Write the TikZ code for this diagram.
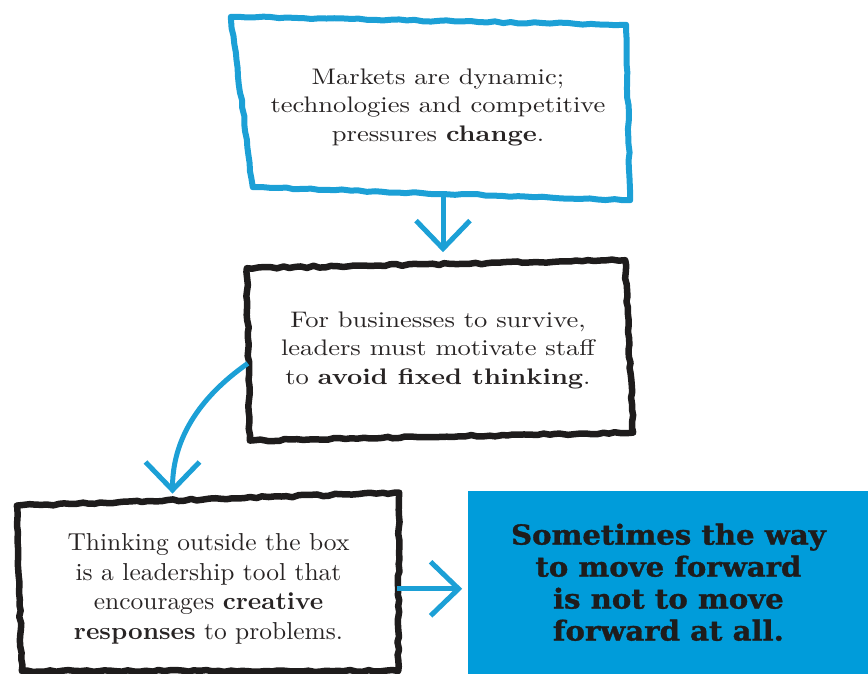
\documentclass[tikz,border=0pt]{standalone}
\usepackage{fontspec}
\newfontfamily\wideFont{lmroman10-regular}[Extension=.otf, BoldFont=lmroman10-bold, FakeStretch=1.18]
\newfontfamily\narrowfont{lmroman10-regular}[Extension=.otf, BoldFont=lmroman10-bold, FakeStretch=1.04]
\newfontfamily\headfont{DejaVu Serif}[FakeStretch=1.06, BoldFeatures={FakeBold=1.2}]
\usepackage{tikz}
\usetikzlibrary{arrows.meta, positioning, decorations.pathmorphing}
\definecolor{sketchblue}{RGB}{28,160,214}
\definecolor{panelblue}{RGB}{0,156,218}
\definecolor{inkblack}{RGB}{30,28,28}
\definecolor{textgray}{RGB}{40,36,36}

\begin{document}
\pgfmathsetseed{7}
\begin{tikzpicture}[
  x=1pt, y=1pt,
  inkbox/.style={minimum width=380pt, minimum height=172pt, align=center,
                 text=textgray, inner sep=0pt, font=\wideFont\fontsize{22.5}{28.5}\selectfont},
  bluepen/.style={draw=sketchblue, line width=6pt, line join=round, decorate,
                  decoration={random steps, segment length=8pt, amplitude=0.8pt}},
  blackpen/.style={draw=inkblack, line width=6.5pt, line join=round, decorate,
                   decoration={random steps, segment length=6pt, amplitude=1pt}},
  panel/.style={fill=panelblue, minimum width=400pt, minimum height=183pt,
                align=center, text=inkblack, inner sep=0pt,
                font=\headfont\bfseries\fontsize{27.5}{32}\selectfont},
  arr/.style={draw=sketchblue, line width=5pt, -{Straight Barb[length=28pt, width=54pt]}},
]
\useasboundingbox (0,0) rectangle (868,673);

% Kasten oben
\node[inkbox, anchor=center] (mkt) at (438,566)
  {Markets are dynamic;\\technologies and competitive\\pressures \textbf{change}.};

% Kasten Mitte
\node[inkbox, below=71pt of mkt] (stf)
  {For businesses to survive,\\leaders must motivate staff\\to \textbf{avoid fixed thinking}.};

% Kasten unten links
\node[inkbox, minimum width=377pt, below=66pt of stf, xshift=-229.5pt,
      font=\narrowfont\fontsize{24.5}{29.5}\selectfont] (tbx)
  {Thinking outside the box\\is a leadership tool that\\encourages \textbf{creative}\\\textbf{responses} to problems.};

% blaue Flaeche
\node[panel, right=71pt of tbx, yshift=6.5pt] (msg)
  {Sometimes the way\\to move forward\\is not to move\\forward at all.};

% Umrisse
\draw[bluepen] ([shift={(-17,4)}]mkt.north west) -- ([shift={(-2,-4)}]mkt.north east)
  -- ([shift={(2,-7)}]mkt.south east) -- ([shift={(5,6)}]mkt.south west) -- cycle;
\draw[blackpen] ([shift={(-1,-4)}]stf.north west) -- ([shift={(-3,4)}]stf.north east)
  -- ([shift={(5,4)}]stf.south east) -- ([shift={(2,-4)}]stf.south west) -- cycle;
\draw[blackpen] ([shift={(-3,-3)}]tbx.north west) -- ([shift={(2,10)}]tbx.north east)
  -- ([shift={(1,4)}]tbx.south east) -- ([shift={(2,4)}]tbx.south west) -- cycle;

% Pfeile
\draw[arr, shorten >=12pt] ([xshift=5pt]mkt.south) -- ([xshift=5pt]stf.north);
\draw[arr, shorten >=9pt] ([yshift=-13pt]stf.west) to[out=215, in=90] ([xshift=-36pt]tbx.north);
\draw[arr, shorten >=6pt] (tbx.east) -- (tbx.east -| msg.west);

\end{tikzpicture}
\end{document}
